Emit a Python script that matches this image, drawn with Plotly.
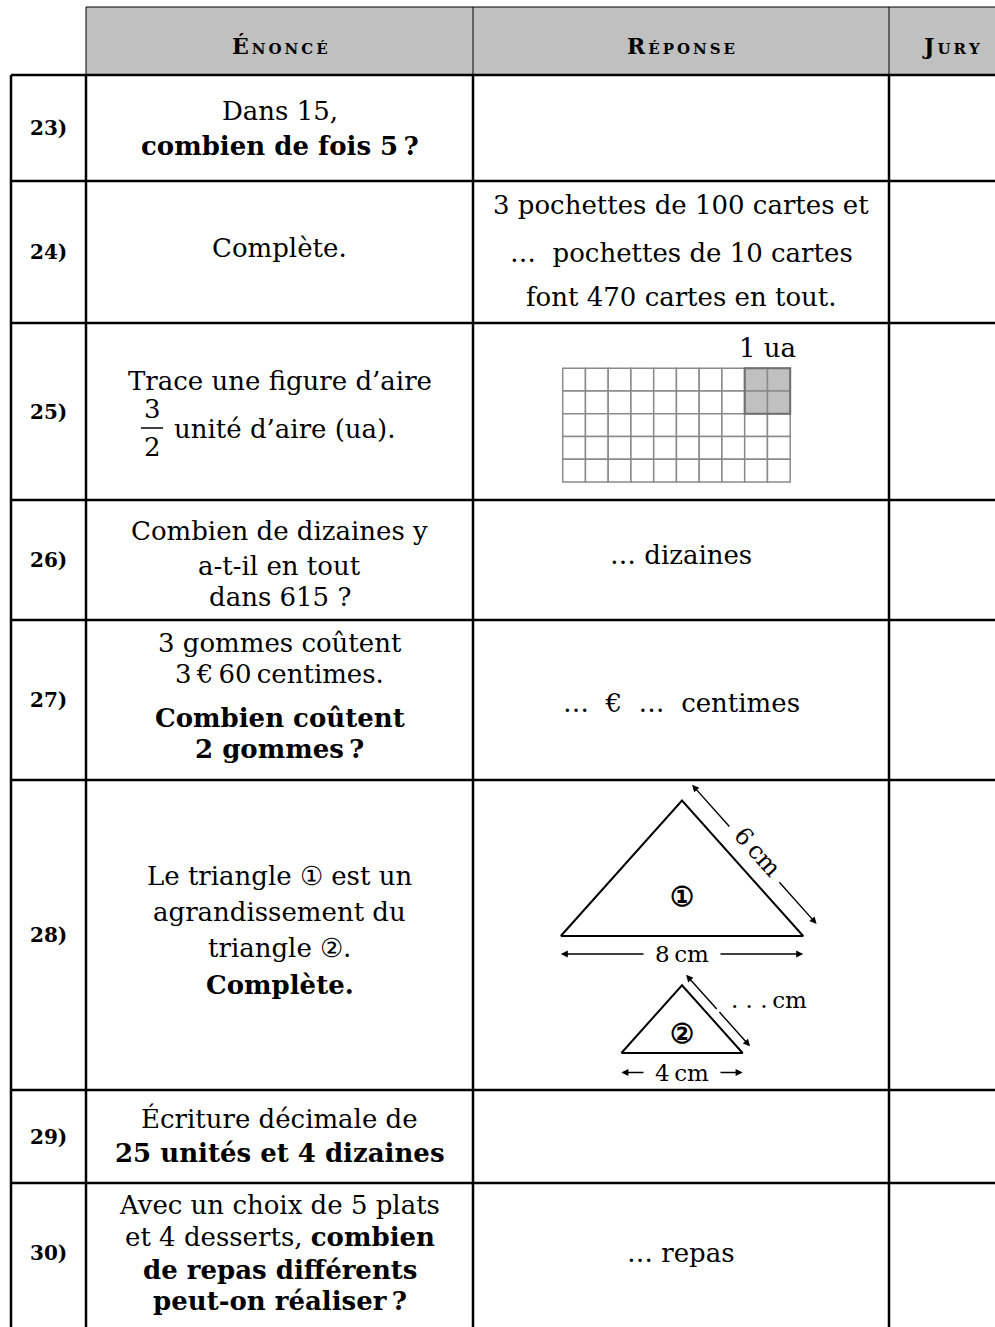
import math
import plotly.graph_objects as go

W, H = 995, 1327
SERIF = "DejaVu Serif"

# ---- content -------------------------------------------------------------
headers = ["ÉNONCÉ", "RÉPONSE", "JURY"]
row_labels = ["23)", "24)", "25)", "26)", "27)", "28)", "29)", "30)"]

enonce = [
    ["Dans 15,", "<b>combien de fois 5\u2009?</b>"],
    ["Complète."],
    ["Trace une figure d’aire", ""],
    ["Combien de dizaines y", "a-t-il en tout", "dans 615 ?"],
    ["3 gommes coûtent", "3\u2009€\u200960\u2009centimes.", "<b>Combien coûtent</b>", "<b>2 gommes\u2009?</b>"],
    ["Le triangle ① est un", "agrandissement du", "triangle ②.", "<b>Complète.</b>"],
    ["Écriture décimale de", "<b>25 unités et 4 dizaines</b>"],
    ["Avec un choix de 5 plats", "et 4 desserts, <b>combien</b>",
     "<b>de repas différents</b>", "<b>peut-on réaliser\u2009?</b>"],
]

reponse = [
    [],
    ["3 pochettes de 100 cartes et", "…  pochettes de 10 cartes", "font 470 cartes en tout."],
    [],
    ["… dizaines"],
    ["…  €  …  centimes"],
    [],
    [],
    ["… repas"],
]

fraction = ["3", "2"]
fraction_tail = "unité d’aire (ua)."

# grid of row 25 (cells), shaded unit = 2x2 top-right
grid_cols, grid_rows = 10, 5
shaded_cols = [8, 9]
shaded_rows = [0, 1]
grid_label = "1 ua"

# triangles of row 28 (cm)
tri_base_cm = [8, 4]
tri_side_cm = [6, 3]
tri_marks = ["①", "②"]
base_labels = ["8\u2009cm", "4\u2009cm"]
side_labels = ["6\u2009cm", ". . .\u2009cm"]

# ---- layout constants ----------------------------------------------------
x_left, x_num, x_enon, x_rep, x_jury = 11, 86, 473, 889, W
row_edges = [75, 181, 323, 500, 620, 780, 1090, 1183, 1340]
header_top = 7

enonce_y = [
    [111, 146], [248], [381], [531, 566, 597], [643, 674, 718, 749],
    [876, 912, 948, 985], [1118, 1153], [1205, 1237, 1270, 1301],
]
reponse_y = [[], [205, 253, 297], [], [555], [703], [], [], [1253]]

fig = go.Figure()
shapes = []
ann = []


def text(x, y, s, size=26, xanchor="center", angle=0, color="black"):
    ann.append(dict(x=x, y=y, text=s, showarrow=False, xanchor=xanchor,
                    yanchor="middle", textangle=angle,
                    font=dict(family=SERIF, size=size, color=color)))


def line(x0, y0, x1, y1, w=2.5, color="black"):
    shapes.append(dict(type="line", x0=x0, y0=y0, x1=x1, y1=y1,
                       line=dict(color=color, width=w)))


def arrow(tx, ty, hx, hy):
    ann.append(dict(x=hx, y=hy, ax=tx, ay=ty, axref="x", ayref="y",
                    xref="x", yref="y", text="", showarrow=True,
                    arrowhead=2, arrowsize=1, arrowwidth=1.4,
                    arrowcolor="black", standoff=0, startstandoff=0))


# header band
shapes.append(dict(type="rect", x0=x_num, y0=header_top, x1=W + 5, y1=row_edges[0],
                   fillcolor="#c0c0c0", line=dict(width=0), layer="below"))
line(x_num, header_top, W, header_top, w=1)
for xc in [x_num, x_enon, x_rep]:
    line(xc, header_top, xc, row_edges[0], w=1)


def smallcaps(word):
    first, rest = word[0], word[1:]
    spaced = "\u2009".join(rest)
    return (f"<b><span style='font-size:22px'>{first}</span>"
            f"<span style='font-size:15px'>\u2009{spaced}</span></b>")


for hx, h in zip([(x_num + x_enon) / 2, (x_enon + x_rep) / 2, 951], headers):
    text(hx, 46, smallcaps(h), size=22)

# body lines
for ye in row_edges[:-1]:
    line(x_left, ye, W, ye)
for xc in [x_left, x_num, x_enon, x_rep]:
    line(xc, row_edges[0], xc, H + 5)

# rows
for i, lab in enumerate(row_labels):
    yc = (row_edges[i] + row_edges[i + 1]) / 2
    if i == len(row_labels) - 1:
        yc = 1253
    text((x_left + x_num) / 2, yc, f"<b>{lab}</b>", size=20)
    for s, y in zip(enonce[i], enonce_y[i]):
        if s:
            text((x_num + x_enon) / 2, y, s)
    for s, y in zip(reponse[i], reponse_y[i]):
        text((x_enon + x_rep) / 2, y, s)

# fraction 3/2 in row 25
fx = 152
text(fx, 409, fraction[0])
line(fx - 11, 428, fx + 11, 428, w=1.5)
text(fx, 447, fraction[1])
text(172, 429, fraction_tail, xanchor="left")

# grid in row 25
gx0, gy0, cell = 562.7, 368.3, 22.75
for r in range(grid_rows):
    for c in range(grid_cols):
        shaded = r in shaded_rows and c in shaded_cols
        shapes.append(dict(type="rect", x0=gx0 + c * cell, y0=gy0 + r * cell,
                           x1=gx0 + (c + 1) * cell, y1=gy0 + (r + 1) * cell,
                           fillcolor="#c0c0c0" if shaded else "white",
                           line=dict(color="#8a8a8a", width=1.5)))
shapes.append(dict(type="rect", x0=gx0 + min(shaded_cols) * cell, y0=gy0 + min(shaded_rows) * cell,
                   x1=gx0 + (max(shaded_cols) + 1) * cell, y1=gy0 + (max(shaded_rows) + 1) * cell,
                   line=dict(color="#707070", width=2)))
text(767, 348, grid_label)

# triangles in row 28
px_cm = 30.3
cx = 682
base_y = [936, 1053]
side_off = [18, 10]
base_off = [18, 19.5]
for k in range(2):
    b = tri_base_cm[k] * px_cm
    s = tri_side_cm[k] * px_cm
    h = math.sqrt(s ** 2 - (b / 2) ** 2)
    xs = [cx - b / 2, cx, cx + b / 2, cx - b / 2]
    ys = [base_y[k], base_y[k] - h, base_y[k], base_y[k]]
    fig.add_trace(go.Scatter(x=xs, y=ys, mode="lines", hoverinfo="skip",
                             line=dict(color="black", width=2), showlegend=False))
    text(cx, base_y[k] - h * 0.29, f"<b>{tri_marks[k]}</b>", size=27)

    # base arrow with gap for label
    yb = base_y[k] + base_off[k]
    gap = 37
    arrow(cx - gap, yb, cx - b / 2, yb)
    arrow(cx + gap, yb, cx + b / 2, yb)
    text(cx, yb, base_labels[k], size=23)

    # side arrow, parallel to right side
    dx, dy = (b / 2) / s, h / s
    nx, ny = dy, -dx
    ax0 = cx + nx * side_off[k] - dx * 5
    ay0 = base_y[k] - h + ny * side_off[k] - dy * 5
    ax1 = cx + b / 2 + nx * side_off[k]
    ay1 = base_y[k] + ny * side_off[k]
    if k == 0:
        t0, t1 = 0.31, 0.69
        mx0, my0 = ax0 + (ax1 - ax0) * t0, ay0 + (ay1 - ay0) * t0
        mx1, my1 = ax0 + (ax1 - ax0) * t1, ay0 + (ay1 - ay0) * t1
        arrow(mx0, my0, ax0, ay0)
        arrow(mx1, my1, ax1, ay1)
        ang = math.degrees(math.atan2(dy, dx))
        text((ax0 + ax1) / 2 + 3, (ay0 + ay1) / 2 - 2, side_labels[k], size=24, angle=ang)
    else:
        mx, my = (ax0 + ax1) / 2, (ay0 + ay1) / 2
        arrow(mx, my, ax0, ay0)
        arrow(mx, my, ax1, ay1)
        text(729, 1000, side_labels[k], size=23, xanchor="left")

fig.update_layout(
    width=W, height=H, margin=dict(l=0, r=0, t=0, b=0),
    paper_bgcolor="white", plot_bgcolor="white",
    xaxis=dict(range=[0, W], visible=False, fixedrange=True),
    yaxis=dict(range=[H, 0], visible=False, fixedrange=True),
    shapes=shapes, annotations=ann, showlegend=False,
)
fig.write_html("out.html", config={"displayModeBar": False},
               post_script="document.body.style.margin='0';")
